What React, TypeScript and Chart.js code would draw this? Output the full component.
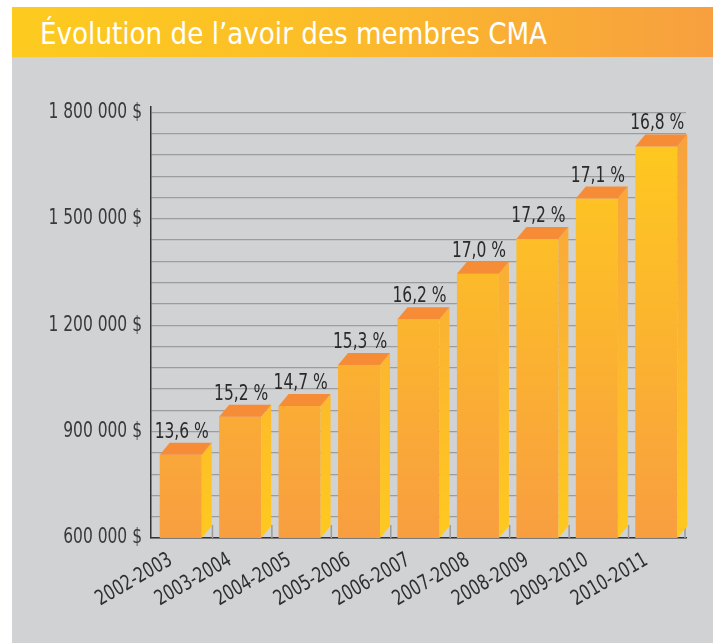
import React, { useEffect, useRef } from "react";
import { Chart, registerables } from "chart.js";

Chart.register(...registerables);

const categories = [
  "2002-2003",
  "2003-2004",
  "2004-2005",
  "2005-2006",
  "2006-2007",
  "2007-2008",
  "2008-2009",
  "2009-2010",
  "2010-2011",
];
const avoirValues = [835000, 942000, 972000, 1088000, 1217000, 1345000, 1443000, 1557000, 1704000];
const rendementLabels = ["13,6 %", "15,2 %", "14,7 %", "15,3 %", "16,2 %", "17,0 %", "17,2 %", "17,1 %", "16,8 %"];
const yMin = 600000;
const yMaxTick = 1800000;
const yMinorStep = 60000;
const yLabelStep = 300000;

const FONT = "'DejaVu Sans Condensed', 'DejaVu Sans', sans-serif";
const NARROW = 0.82;
const DEPTH_X = 10;
const DEPTH_Y = 12;

const fmt = (v: number) =>
  String(v).replace(/\B(?=(\d{3})+(?!\d))/g, " ") + " $";

// draw all canvas text horizontally condensed (the reference uses a condensed face)
const narrowTextPlugin = {
  id: "narrowText",
  beforeInit(chart: any) {
    const ctx = chart.ctx;
    if (ctx.__narrow) return;
    ctx.__narrow = true;
    const orig = ctx.fillText.bind(ctx);
    ctx.fillText = function (text: string, x: number, y: number, maxWidth?: number) {
      ctx.save();
      ctx.translate(x, y);
      ctx.scale(NARROW, 1);
      if (typeof maxWidth === "number" && isFinite(maxWidth)) orig(text, 0, 0, maxWidth / NARROW);
      else orig(text, 0, 0);
      ctx.restore();
    };
  },
};

const bar3dPlugin = {
  id: "bar3d",
  beforeDatasetsDraw(chart: any) {
    const { ctx, chartArea } = chart;
    const xs = chart.scales.x;
    ctx.save();
    ctx.strokeStyle = "#9a9b9d";
    ctx.lineWidth = 1.5;
    const half = (xs.getPixelForValue(1) - xs.getPixelForValue(0)) / 2;
    for (let i = 0; i < categories.length; i++) {
      const bx = xs.getPixelForValue(i) + half + 2;
      const x = Math.min(bx, chartArea.right - 1);
      ctx.beginPath();
      ctx.moveTo(x, chartArea.bottom);
      ctx.lineTo(x, chartArea.bottom - DEPTH_Y - 1);
      ctx.stroke();
    }
    ctx.restore();
  },
  afterDatasetsDraw(chart: any) {
    const { ctx, chartArea } = chart;
    const meta = chart.getDatasetMeta(0);
    const sideGrad = ctx.createLinearGradient(0, chartArea.top, 0, chartArea.bottom);
    sideGrad.addColorStop(0, "#F7A03E");
    sideGrad.addColorStop(0.5, "#FBB332");
    sideGrad.addColorStop(1, "#FFC91F");
    ctx.save();
    meta.data.forEach((bar: any, i: number) => {
      const left = bar.x - bar.width / 2;
      const right = bar.x + bar.width / 2;
      const top = bar.y;
      const base = Math.min(bar.base, chartArea.bottom);
      // side face
      ctx.fillStyle = sideGrad;
      ctx.beginPath();
      ctx.moveTo(right, top);
      ctx.lineTo(right + DEPTH_X, top - DEPTH_Y);
      ctx.lineTo(right + DEPTH_X, base - DEPTH_Y);
      ctx.lineTo(right, base);
      ctx.closePath();
      ctx.fill();
      // top face
      ctx.fillStyle = "#F68D36";
      ctx.beginPath();
      ctx.moveTo(left, top);
      ctx.lineTo(left + DEPTH_X, top - DEPTH_Y);
      ctx.lineTo(right + DEPTH_X, top - DEPTH_Y);
      ctx.lineTo(right, top);
      ctx.closePath();
      ctx.fill();
      // label
      ctx.fillStyle = "#2a2a2a";
      ctx.font = `21px ${FONT}`;
      ctx.textAlign = "center";
      ctx.textBaseline = "alphabetic";
      ctx.fillText(rendementLabels[i], bar.x + 1, top - 17);
    });
    ctx.restore();
  },
};

function ChartView() {
  const ref = useRef<HTMLCanvasElement>(null);
  useEffect(() => {
    if (!ref.current) return;
    const chart = new Chart(ref.current, {
      type: "bar",
      data: {
        labels: categories,
        datasets: [
          {
            data: avoirValues,
            backgroundColor: (c: any) => {
              const area = c.chart.chartArea;
              if (!area) return "#FBB034";
              const g = c.chart.ctx.createLinearGradient(0, area.top, 0, area.bottom);
              g.addColorStop(0, "#FFCC1C");
              g.addColorStop(1, "#F89E40");
              return g;
            },
            borderWidth: 0,
            barPercentage: 0.707,
            categoryPercentage: 1,
          },
        ],
      },
      options: {
        animation: false,
        responsive: false,
        maintainAspectRatio: false,
        layout: { padding: { top: 50, right: 27, left: 0, bottom: 0 } },
        plugins: {
          legend: { display: false },
          tooltip: { enabled: false },
          title: { display: false },
        },
        scales: {
          x: {
            grid: { display: false, drawTicks: false },
            border: { display: true, color: "#333333", width: 1.5 },
            ticks: {
              color: "#2f2f2f",
              font: { family: FONT, size: 21 },
              minRotation: 30,
              maxRotation: 30,
              padding: 10,
              labelOffset: -10,
              autoSkip: false,
            },
            afterFit: (s: any) => {
              s.height = 105;
            },
          },
          y: {
            min: yMin,
            max: 1815000,
            afterBuildTicks: (s: any) => {
              const t = [];
              for (let v = yMin; v <= yMaxTick; v += yMinorStep) t.push({ value: v });
              s.ticks = t;
            },
            grid: { color: "#9c9d9f", lineWidth: 1.2, drawTicks: false },
            border: { display: true, color: "#333333", width: 1.5 },
            ticks: {
              color: "#3a3a3a",
              font: { family: FONT, size: 21 },
              padding: 9,
              autoSkip: false,
              callback: (v: any) => (Number(v) % yLabelStep === 0 ? fmt(Number(v)) : ""),
            },
            afterFit: (s: any) => {
              s.width = 139;
            },
          },
        },
      },
      plugins: [narrowTextPlugin, bar3dPlugin],
    });
    return () => chart.destroy();
  }, []);
  return <canvas ref={ref} width={701} height={586} style={{ display: "block" }} />;
}

export default function App() {
  return (
    <div
      style={{
        position: "absolute",
        left: 12,
        top: 7,
        width: 701,
        height: 636,
        background: "#D1D2D4",
        overflow: "hidden",
      }}
    >
      <div
        style={{
          height: 50,
          boxSizing: "border-box",
          paddingTop: 3,
          background: "linear-gradient(to right, #FDCB1F 0%, #FCBF27 40%, #F79F3F 100%)",
          color: "#ffffff",
          fontFamily: FONT,
          fontSize: 31,
          lineHeight: "47px",
          paddingLeft: 28,
          whiteSpace: "nowrap",
        }}
      >
        <span
          style={{
            display: "inline-block",
            transform: "scaleX(0.94)",
            transformOrigin: "left center",
          }}
        >
          Évolution de l’avoir des membres CMA
        </span>
      </div>
      <ChartView />
    </div>
  );
}
